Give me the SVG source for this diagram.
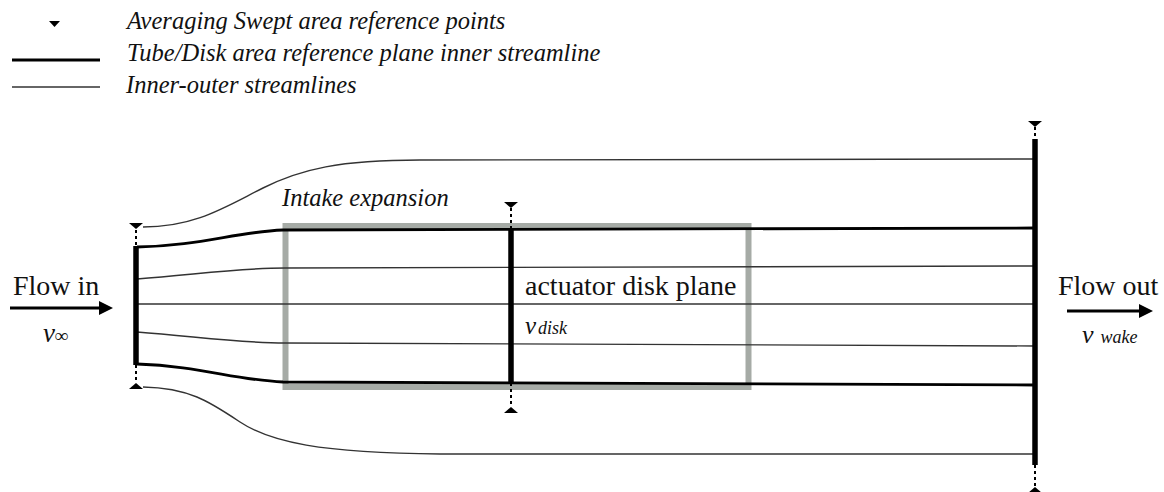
<svg xmlns="http://www.w3.org/2000/svg" width="1164" height="492" viewBox="0 0 1164 492">
<defs>
<style>
text{font-family:"Liberation Serif","Times New Roman","DejaVu Serif",serif;fill:#111}
.i{font-style:italic}
.thin{fill:none;stroke:#333;stroke-width:1.4}
.bold{fill:none;stroke:#000;stroke-width:2.8}
.plane{stroke:#000;stroke-width:5.5}
.dot{stroke:#000;stroke-width:2;stroke-dasharray:3 3}
.box{fill:none;stroke:#a6aba6;stroke-width:6}
.arr{stroke:#000;stroke-width:3}
</style>
<polygon id="triDown" points="-7,0 7,0 0,6" fill="#000"/>
<polygon id="triUp" points="-7,0 7,0 0,-6" fill="#000"/>
</defs>
<rect width="1164" height="492" fill="#fff"/>

<g id="legend">
<polygon points="49,21 60,21 54.5,27" fill="#000"/>
<text class="i" x="127" y="29" font-size="24.5">Averaging Swept area reference points</text>
<line x1="12" y1="60" x2="100" y2="60" stroke="#000" stroke-width="3"/>
<text class="i" x="127" y="61" font-size="24.5">Tube/Disk area reference plane inner streamline</text>
<line x1="12" y1="87" x2="100" y2="87" stroke="#333" stroke-width="1.4"/>
<text class="i" x="126" y="93" font-size="24.5">Inner-outer streamlines</text>
</g>

<g id="intake-box">
<rect class="box" x="285.5" y="226" width="463" height="161"/>
<text class="i" x="282" y="206" font-size="24.5">Intake expansion</text>
</g>

<g id="connectors">
<path class="thin" d="M143,227 C195,227 225,207 263,188 S340,160 420,160 L1035,159"/>
<path class="bold" d="M137,247 C200,246 235,232 283,230 L1035,228"/>
<path class="thin" d="M137,279 C200,274 240,268 285,268 L1035,266"/>
<path class="thin" d="M137,304 L1035,304"/>
<path class="thin" d="M137,332 C200,337 240,343 285,343 L1035,346"/>
<path class="bold" d="M137,364 C200,366 235,380 283,382 L1035,385"/>
<path class="thin" d="M143,387 C190,388 210,402 240,422 S320,453 440,454 L1035,454"/>
</g>

<g id="inlet-plane">
<line class="plane" x1="136" y1="246" x2="136" y2="365"/>
<line class="dot" x1="136" y1="230" x2="136" y2="246"/>
<line class="dot" x1="136" y1="365" x2="136" y2="382"/>
<use href="#triDown" x="136" y="223"/>
<use href="#triUp" x="136" y="389"/>
</g>

<g id="disk-plane">
<line class="plane" x1="511" y1="229" x2="511" y2="383"/>
<line class="dot" x1="511" y1="208" x2="511" y2="229"/>
<line class="dot" x1="511" y1="383" x2="511" y2="407"/>
<use href="#triDown" x="511" y="202"/>
<use href="#triUp" x="511" y="413"/>
<text x="525" y="295" font-size="28">actuator disk plane</text>
<text class="i" x="525" y="334" font-size="25">v<tspan font-size="18" dx="2">disk</tspan></text>
</g>

<g id="outlet-plane">
<line class="plane" x1="1035" y1="139" x2="1035" y2="465"/>
<line class="dot" x1="1035" y1="127" x2="1035" y2="139"/>
<line class="dot" x1="1035" y1="465" x2="1035" y2="486"/>
<use href="#triDown" x="1035" y="121"/>
<use href="#triUp" x="1035" y="493"/>
</g>

<g id="flow-in">
<text x="13" y="295" font-size="28">Flow in</text>
<line class="arr" x1="10" y1="308" x2="101" y2="308"/>
<polygon points="99,301 113,308 99,315" fill="#000"/>
<text class="i" x="43" y="342" font-size="27">v<tspan font-size="19">∞</tspan></text>
</g>

<g id="flow-out">
<text x="1058" y="295" font-size="28">Flow out</text>
<line class="arr" x1="1067" y1="311" x2="1141" y2="311"/>
<polygon points="1139,304 1153,311 1139,318" fill="#000"/>
<text class="i" x="1082" y="343" font-size="26">v<tspan font-size="18" dx="7">wake</tspan></text>
</g>
</svg>
